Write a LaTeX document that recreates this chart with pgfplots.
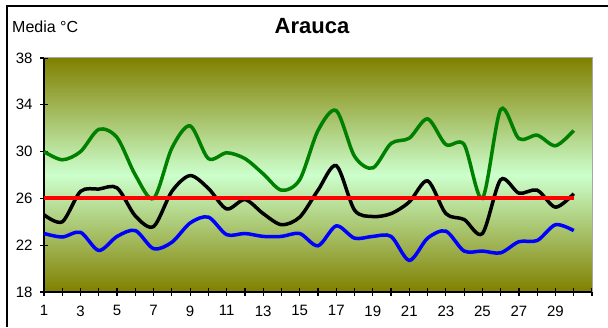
\documentclass[border=0pt]{standalone}
\usepackage{fontspec}
\setmainfont{Liberation Sans}
\usepackage{pgfplots}
\pgfplotsset{compat=1.18}
\definecolor{olivebg}{RGB}{128,128,0}
\definecolor{lightbg}{RGB}{204,255,204}
\definecolor{maxgreen}{RGB}{0,128,0}
\begin{document}
\begin{tikzpicture}[x=1pt,y=1pt]
\useasboundingbox (0,0) rectangle (608,327);
\fill[white] (0,0) rectangle (608,327);
\draw[black, line width=2pt] (6.5,0) -- (6.5,320.5) -- (608,320.5);
\node[anchor=base, font=\fontsize{22}{25}\selectfont\bfseries] at (312,293) {Arauca};
\node[anchor=base west, font=\fontsize{16}{19}\selectfont, inner sep=0pt] at (12,294) {Media °C};
\begin{axis}[
  at={(44pt,35pt)}, anchor=south west,
  scale only axis, width=548pt, height=234pt,
  xmin=1, xmax=31, ymin=18, ymax=38,
  ytick={18,22,...,38},
  xtick={1,...,31},
  xticklabels={1,,3,,5,,7,,9,,11,,13,,15,,17,,19,,21,,23,,25,,27,,29,,},
  tick align=center,
  major tick length=8pt,
  tick style={black, line width=1.2pt},
  axis x line*=bottom, axis y line*=left,
  axis line style={black, line width=1.6pt, -},
  /pgf/number format/assume math mode=true,
  ticklabel style={font=\fontsize{15}{18}\selectfont},
  xticklabel style={yshift=-6pt},
  yticklabel style={xshift=-4pt},
  axis background/.style={shade, top color=olivebg, bottom color=olivebg, middle color=lightbg},
  clip=false,
]
\draw[gray!70, line width=1pt] (rel axis cs:0,1) -- (rel axis cs:1,1) -- (rel axis cs:1,0);
\addplot[maxgreen, line width=3.5pt, smooth, tension=0.5] coordinates {
(1,30.0)(2,29.3)(3,30.0)(4,31.9)(5,31.2)(6,28.0)(7,26.0)(8,30.3)(9,32.2)(10,29.4)
(11,29.9)(12,29.4)(13,28.1)(14,26.7)(15,27.6)(16,31.8)(17,33.5)(18,29.6)(19,28.6)(20,30.7)
(21,31.15)(22,32.8)(23,30.6)(24,30.6)(25,26.0)(26,33.6)(27,31.1)(28,31.4)(29,30.5)(30,31.8)};
\addplot[black, line width=3.5pt, smooth, tension=0.5] coordinates {
(1,24.6)(2,24.0)(3,26.6)(4,26.8)(5,26.9)(6,24.5)(7,23.6)(8,26.6)(9,27.95)(10,26.85)
(11,25.1)(12,25.9)(13,24.7)(14,23.75)(15,24.4)(16,26.7)(17,28.8)(18,25.0)(19,24.45)(20,24.7)
(21,25.7)(22,27.5)(23,24.7)(24,24.2)(25,23.0)(26,27.6)(27,26.45)(28,26.7)(29,25.25)(30,26.4)};
\addplot[blue, line width=3.5pt, smooth, tension=0.5] coordinates {
(1,23.0)(2,22.7)(3,23.1)(4,21.55)(5,22.75)(6,23.25)(7,21.7)(8,22.25)(9,23.9)(10,24.4)
(11,22.9)(12,23.0)(13,22.75)(14,22.75)(15,23.0)(16,21.95)(17,23.65)(18,22.6)(19,22.75)(20,22.75)
(21,20.7)(22,22.6)(23,23.2)(24,21.5)(25,21.5)(26,21.35)(27,22.3)(28,22.4)(29,23.75)(30,23.25)};
\addplot[red, line width=4pt] coordinates {
(1,26)(2,26)(3,26)(4,26)(5,26)(6,26)(7,26)(8,26)(9,26)(10,26)
(11,26)(12,26)(13,26)(14,26)(15,26)(16,26)(17,26)(18,26)(19,26)(20,26)
(21,26)(22,26)(23,26)(24,26)(25,26)(26,26)(27,26)(28,26)(29,26)(30,26)};
\end{axis}
\end{tikzpicture}
\end{document}
